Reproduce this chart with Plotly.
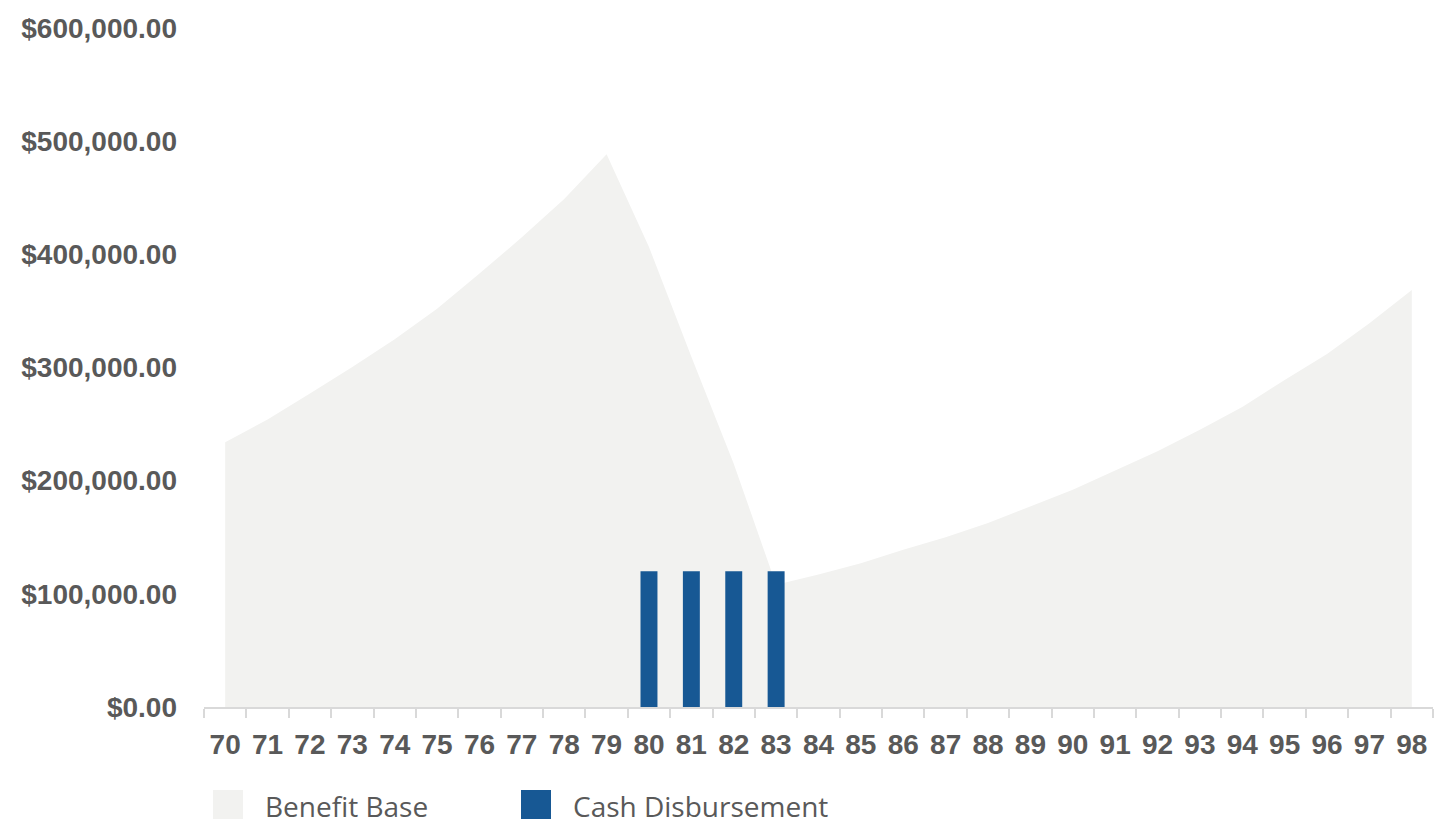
import plotly.graph_objects as go

ages = [str(a) for a in range(70, 99)]
benefit_base = [234000, 254000, 277000, 300500, 325000, 352000, 383000, 415000, 449000, 488500,
                406500, 309500, 215000, 108000, 117000, 127000, 139000, 150000, 162500, 177000,
                192000, 209000, 226000, 245000, 265000, 289000, 312000, 339000, 368500]
cash_ages = ["80", "81", "82", "83"]
cash_disbursement = [120000, 120000, 120000, 120000]
y_ticks = [0, 100000, 200000, 300000, 400000, 500000, 600000]

W, H = 1448, 829
L, R, T, B = 204, 15, 28, 122
pw, ph = W - L - R, H - T - B

def px_x(x):
    return (x - L) / pw

def px_y(y):
    return (H - B - y) / ph

GREY_FILL = "#F2F2F0"
BLUE = "#175894"
TEXT = "#595959"
XRANGE = [-0.5, len(ages) - 0.5]
YRANGE = [0, 600000]

fig = go.Figure()
fig.add_trace(go.Scatter(
    x=ages, y=benefit_base, mode="lines", fill="tozeroy",
    fillcolor=GREY_FILL, line=dict(width=0, color=GREY_FILL),
    name="Benefit Base", showlegend=False, hoverinfo="x+y",
    xaxis="x", yaxis="y"))
fig.add_trace(go.Bar(
    x=cash_ages, y=cash_disbursement, marker=dict(color=BLUE, line=dict(width=0)),
    name="Cash Disbursement", showlegend=False,
    xaxis="x2", yaxis="y2"))

fig.update_layout(
    width=W, height=H,
    margin=dict(l=L, r=R, t=T, b=B, pad=0),
    paper_bgcolor="white", plot_bgcolor="white",
    bargap=0.6,
    xaxis=dict(
        type="category", categoryorder="array", categoryarray=ages,
        range=XRANGE, automargin=False,
        showline=True, linecolor="#D9D9D9", linewidth=2,
        ticks="outside", tickson="boundaries", ticklen=9, tickcolor="#D9D9D9", tickwidth=2,
        showgrid=False, zeroline=False, tickangle=0,
        tickfont=dict(family="Liberation Sans, Arial", size=28, color=TEXT, weight="bold"),
        ticklabelstandoff=11,
    ),
    yaxis=dict(
        range=YRANGE, tickvals=y_ticks, tickformat="$,.2f", automargin=False,
        showline=False, showgrid=False, zeroline=False, ticks="",
        tickfont=dict(family="Liberation Sans, Arial", size=28, color=TEXT, weight="bold"),
        ticklabelstandoff=26,
    ),
    xaxis2=dict(
        type="category", categoryorder="array", categoryarray=ages,
        range=XRANGE, overlaying="x", visible=False, automargin=False,
    ),
    yaxis2=dict(range=YRANGE, overlaying="y", visible=False, automargin=False),
    showlegend=False,
)

# Custom legend (large square swatches as in the reference)
legend_items = [("Benefit Base", GREY_FILL, 213), ("Cash Disbursement", BLUE, 521)]
for label, color, x0 in legend_items:
    fig.add_shape(type="rect", xref="paper", yref="paper",
                  x0=px_x(x0), x1=px_x(x0 + 30), y0=px_y(819), y1=px_y(790),
                  fillcolor=color, line=dict(width=0), layer="above")
    fig.add_annotation(xref="paper", yref="paper", x=px_x(x0 + 50), y=px_y(806),
                       text=label, showarrow=False, xanchor="left", yanchor="middle",
                       font=dict(family="Open Sans, Segoe UI, Noto Sans", size=28, color=TEXT))

fig.write_html("out.html")
